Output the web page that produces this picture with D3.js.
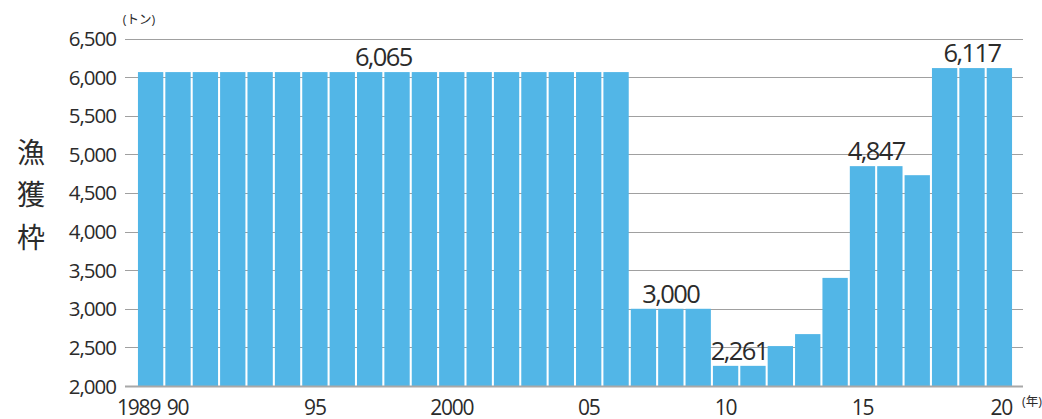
<!DOCTYPE html>
<html>
<head>
<meta charset="utf-8">
<script src="https://cdn.jsdelivr.net/npm/d3@7"></script>
<style>
  html, body { margin: 0; padding: 0; background: #fff; }
  svg { display: block; }
  text { font-family: "Open Sans", "Noto Sans CJK JP", sans-serif; fill: #2b2b2b; }
</style>
</head>
<body>
<svg id="chart" width="1042" height="419"></svg>
<script>
// 漁獲枠 (catch quota, tonnes) by year
const years = d3.range(1989, 2021);
const quota = [
  6065, 6065, 6065, 6065, 6065, 6065, 6065, 6065, 6065, 6065,
  6065, 6065, 6065, 6065, 6065, 6065, 6065, 6065,
  3000, 3000, 3000,
  2261, 2261,
  2517, 2672, 3400,
  4847, 4847, 4730,
  6117, 6117, 6117
];
const yTicks = [2000, 2500, 3000, 3500, 4000, 4500, 5000, 5500, 6000, 6500];
const xTickYears = [1989, 1990, 1995, 2000, 2005, 2010, 2015, 2020];
const xTickText = ["1989", "90", "95", "2000", "05", "10", "15", "20"];
// value callouts: value, first and last year of the span they sit over
const callouts = [
  { value: 6065, from: 1997, to: 1998 },
  { value: 3000, from: 2008, to: 2008 },
  { value: 2261, from: 2010, to: 2011 },
  { value: 4847, from: 2015, to: 2016 },
  { value: 6117, from: 2019, to: 2019 }
];
const yTitle = ["漁", "獲", "枠"];

const svg = d3.select("#chart");
const plotLeft = 137, plotRight = 1013, plotTop = 38.5, plotBottom = 386;
const gridLeft = 125, gridRight = 1023;

const x = d3.scaleBand().domain(years).range([plotLeft, plotRight]).paddingInner(0.075).paddingOuter(0.035);
const y = d3.scaleLinear().domain([2000, 6500]).range([plotBottom, plotTop]);
const fmt = d3.format(",");

// gridlines
svg.append("g").selectAll("line").data(yTicks.filter(v => v > 2000)).join("line")
  .attr("x1", gridLeft).attr("x2", gridRight)
  .attr("y1", d => Math.round(y(d)) + 0.5).attr("y2", d => Math.round(y(d)) + 0.5)
  .attr("stroke", "#a0a0a0").attr("stroke-width", 1);

// bars
svg.append("g").selectAll("rect").data(years).join("rect")
  .attr("x", d => x(d))
  .attr("width", x.bandwidth())
  .attr("y", (d, i) => y(quota[i]))
  .attr("height", (d, i) => plotBottom - y(quota[i]))
  .attr("fill", "#52b6e7");

// baseline
svg.append("line")
  .attr("x1", gridLeft).attr("x2", gridRight)
  .attr("y1", plotBottom + 0.5).attr("y2", plotBottom + 0.5)
  .attr("stroke", "#a8a8a8").attr("stroke-width", 2);

// y tick labels
svg.append("g").selectAll("text").data(yTicks).join("text")
  .attr("x", 116).attr("y", d => y(d) + 7.5)
  .attr("text-anchor", "end")
  .attr("font-size", 20.5)
  .attr("letter-spacing", "-1")
  .text(d => fmt(d));

// x tick labels
const xLabelShift = { 1989: -12, 1990: -0.5, 2020: 2 };
svg.append("g").selectAll("text").data(xTickYears).join("text")
  .attr("x", (d) => x(d) + x.bandwidth() / 2 + (xLabelShift[d] || 0))
  .attr("y", 414.5)
  .attr("text-anchor", "middle")
  .attr("font-size", 21)
  .attr("letter-spacing", "-1.2")
  .text((d, i) => xTickText[i]);

// value callouts
svg.append("g").selectAll("text").data(callouts).join("text")
  .attr("x", d => (x(d.from) + x(d.to) + x.bandwidth()) / 2)
  .attr("y", d => y(d.value) - 6)
  .attr("text-anchor", "middle")
  .attr("font-size", 25.5)
  .attr("letter-spacing", "-1.6")
  .text(d => fmt(d.value));

// unit labels
svg.append("text").attr("x", 139).attr("y", 24).attr("text-anchor", "middle")
  .attr("font-size", 12.5).text("(トン)");
svg.append("text").attr("x", 1032).attr("y", 406).attr("text-anchor", "middle")
  .attr("font-size", 12.5).text("(年)");

// vertical axis title, one character per line
svg.append("g").selectAll("text").data(yTitle).join("text")
  .attr("x", 31).attr("y", (d, i) => 162.5 + i * 42.5)
  .attr("text-anchor", "middle")
  .attr("font-size", 28)
  .attr("font-family", "Noto Sans CJK JP")
  .text(d => d);
</script>
</body>
</html>
